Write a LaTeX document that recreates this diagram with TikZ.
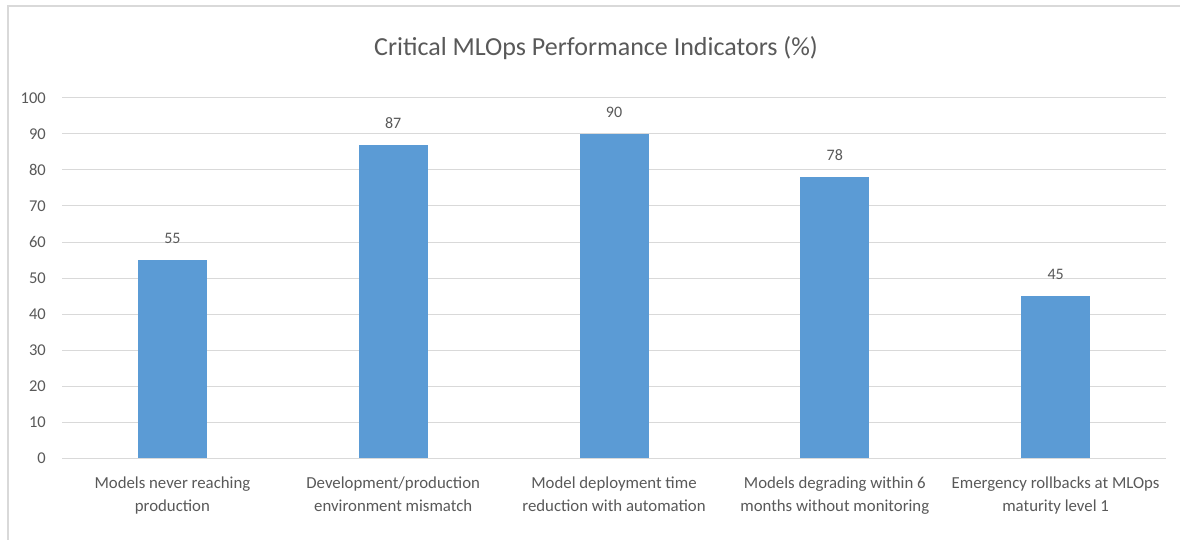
\documentclass[tikz,border=0pt]{standalone}
\usepackage{fontspec}
\setmainfont{Carlito}
\definecolor{txt}{HTML}{595959}
\definecolor{grid}{HTML}{D9D9D9}
\definecolor{bar}{HTML}{5B9BD5}
\definecolor{frame}{HTML}{D9D9D9}
\begin{document}
\begin{tikzpicture}[x=1pt,y=-1pt,
  tick/.style={anchor=east,text=txt,font=\fontsize{16.5}{18}\selectfont,inner sep=0pt},
  val/.style={anchor=center,text=txt,font=\fontsize{16}{18}\selectfont,inner sep=0pt},
  cat/.style={anchor=north,text=txt,font=\fontsize{16.8}{23}\selectfont,align=center,inner sep=0pt},
  gridline/.style={draw=grid,line width=1pt},
  barbox/.style={fill=bar,draw=none}]
\useasboundingbox (0,0) rectangle (1180,540);
\fill[white] (0,0) rectangle (1180,540);
\draw[frame,line width=1.5pt] (8,540) -- (8,6) -- (1180,6);
\node[text=txt,font=\fontsize{26}{30}\selectfont,inner sep=0pt] (title) at (596,48) {Critical MLOps Performance Indicators (\%)};
\foreach \v in {0,10,...,100}{
  \coordinate (gl\v) at (62,{458-3.6*\v});
  \coordinate (gr\v) at (1166,{458-3.6*\v});
  \draw[gridline] (gl\v) -- (gr\v);
  \node[tick] (t\v) at (46,{458-3.6*\v}) {\v};
}
\foreach \i/\v/\c in {1/55/172.4,2/87/393.2,3/90/614,4/78/834.8,5/45/1055.6}{
  \fill[barbox] ({\c-34.5},458) rectangle ({\c+34.5},{458-3.6*\v});
  \node[val] (v\i) at (\c,{458-3.6*\v-22}) {\v};
}
\node[cat] (c1) at (172.4,477) {Models never reaching\\production};
\node[cat] (c2) at (393.2,477) {Development/production\\environment mismatch};
\node[cat] (c3) at (614,477) {Model deployment time\\reduction with automation};
\node[cat] (c4) at (834.8,477) {Models degrading within 6\\months without monitoring};
\node[cat] (c5) at (1055.6,477) {Emergency rollbacks at MLOps\\maturity level 1};
\end{tikzpicture}
\end{document}
